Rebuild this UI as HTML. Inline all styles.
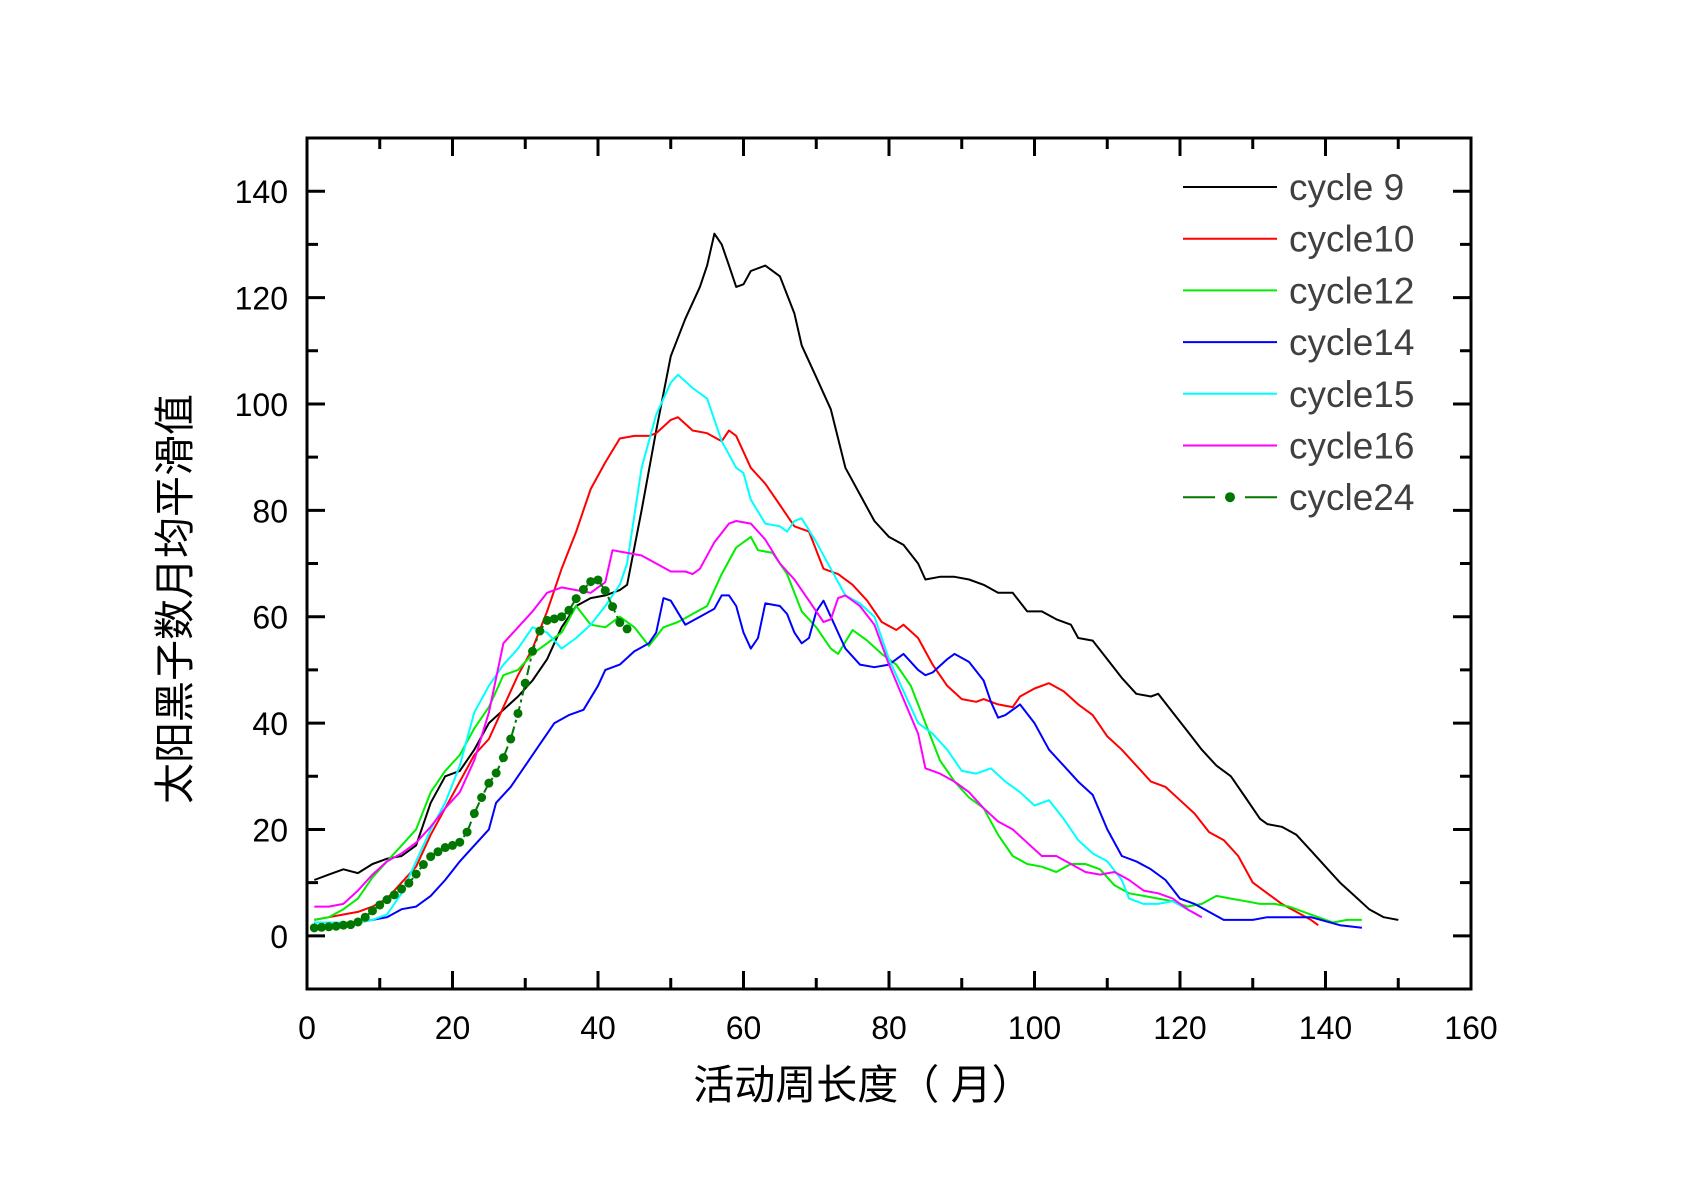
<!DOCTYPE html>
<html><head><meta charset="utf-8"><style>
html,body{margin:0;padding:0;background:#fff;}
svg{display:block;font-family:"Liberation Sans","Noto Sans CJK SC",sans-serif;}
</style></head><body>
<svg id="chart" width="1705" height="1183" viewBox="0 0 1705 1183" xmlns="http://www.w3.org/2000/svg">
<rect x="0" y="0" width="1705" height="1183" fill="#fff"/>
<g id="plot"></g>
<g id="axes"></g>
<g id="legend"></g>
<text x="178" y="599" transform="rotate(-90 178 599)" text-anchor="middle" dominant-baseline="middle" font-size="41" fill="#000">太阳黑子数月均平滑值</text>
<text x="863" y="1088" text-anchor="middle" dominant-baseline="middle" font-size="41" fill="#000">活动周长度（ 月）</text>
</svg>
<script>
const xTicks = [0,20,40,60,80,100,120,140,160];
const yTicks = [0,20,40,60,80,100,120,140];
const seriesNames = ["cycle 9","cycle10","cycle12","cycle14","cycle15","cycle16","cycle24"];
const c9x=[1,3,5,7,9,11,13,15,17,19,21,23,25,27,29,31,33,35,37,39,41,43,44,46,48,50,52,54,55,56,57,58,59,60,61,63,65,67,68,70,72,74,76,78,80,82,84,85,87,89,91,93,95,97,99,101,103,105,106,108,110,112,114,116,117,119,121,123,125,127,129,131,132,134,136,138,140,142,144,146,148,150];
const c9y=[10.5,11.5,12.5,11.8,13.5,14.5,15,17,25,30,31,35,40,42.5,45,48,52,58,62,63.5,64,65,66,80,95,109,116,122,126,132,130,126,122,122.5,125,126,124,117,111,105,99,88,83,78,75,73.5,70,67,67.5,67.5,67,66,64.5,64.5,61,61,59.5,58.5,56,55.5,52,48.5,45.5,45,45.5,42,38.5,35,32,30,26,22,21,20.5,19,16,13,10,7.5,5,3.5,3];
const c10x=[1,3,5,7,9,11,13,15,17,19,21,23,25,27,29,31,33,35,37,39,41,43,45,47,48,50,51,53,55,57,58,59,61,63,65,67,69,71,73,75,77,79,81,82,84,86,88,90,92,93,95,97,98,100,102,104,106,108,110,112,114,116,118,120,122,124,126,128,130,132,134,136,138,139];
const c10y=[3,3.5,4,4.5,5.5,7,10,13,19,24,29,34,37,43,49,54,61,69,76,84,89,93.5,94,94,94.5,97,97.5,95,94.5,93,95,94,88,85,81,77,76,69,68,66,63,59,57.5,58.5,56,51,47,44.5,44,44.5,43.5,43,45,46.5,47.5,46,43.5,41.5,37.5,35,32,29,28,25.5,23,19.5,18,15,10,8,6,4.5,3,2];
const c12x=[1,3,5,7,9,11,13,15,17,19,21,23,25,27,29,31,33,35,37,39,41,43,45,47,49,51,53,55,57,59,61,62,64,66,68,70,72,73,75,77,79,81,83,85,87,89,91,93,95,97,99,101,103,105,107,109,111,113,115,117,119,121,123,125,127,129,131,133,135,137,139,141,143,145];
const c12y=[3,3.5,5,7,11,14,17,20,27,31,34,39,43,49,50,53,55,57,62,58.5,58,60,58,54.5,58,59,60.5,62,68,73,75,72.5,72,68,61,58,54,53,57.5,55.5,53,51,47,40,33,29,26,24,19,15,13.5,13,12,13.5,13.5,12.5,9.5,8,7.5,7,6.5,5.5,6,7.5,7,6.5,6,6,5.5,4.5,3.5,2.5,3,3];
const c14x=[1,3,5,7,9,11,13,15,17,19,21,23,25,26,28,30,32,34,36,38,40,41,43,45,47,48,49,50,52,54,56,57,58,59,60,61,62,63,65,66,67,68,69,70,71,72,74,76,78,80,82,84,85,86,88,89,91,93,94,95,96,98,100,102,104,106,108,110,112,114,116,118,120,122,124,126,130,132,136,138,142,145];
const c14y=[2.5,2.5,2.5,2.5,3,3.5,5,5.5,7.5,10.5,14,17,20,25,28,32,36,40,41.5,42.5,47,50,51,53.5,55,57,63.5,63,58.5,60,61.5,64,64,62,57,54,56,62.5,62,60.5,57,55,56,61,63,60,54,51,50.5,51,53,50,49,49.5,52,53,51.5,48,44,41,41.5,43.5,40,35,32,29,26.5,20,15,14,12.5,10.5,7,6,4.5,3,3,3.5,3.5,3.5,2,1.5];
const c15x=[1,3,5,7,9,11,13,15,17,19,21,23,25,27,29,31,33,35,37,39,41,43,44,46,48,50,51,53,55,57,59,60,61,63,65,66,67,68,70,72,74,76,78,80,82,84,86,88,90,92,94,96,98,100,102,104,106,108,110,112,113,115,117,119,121,123];
const c15y=[2.5,2.5,2.5,2.5,3,4,8,14,20,25,32,42,47,51,54,58,57,54,56,58.5,62,66,70,88,98,104,105.5,103,101,93,88,87,82,77.5,77,76,78,78.5,74,69,64,62.5,60,52,46,40,38,35,31,30.5,31.5,29,27,24.5,25.5,22,18,15.5,14,10.5,7,6,6,6.5,5,3.5];
const c16x=[1,3,5,7,9,11,13,15,17,19,21,23,25,27,29,31,33,35,37,39,41,42,44,46,48,50,52,53,54,56,58,59,61,63,65,67,69,71,72,73,74,76,78,80,82,84,85,87,89,91,93,95,97,99,101,103,105,107,109,111,113,115,117,119,121,123];
const c16y=[5.5,5.5,6,8.5,11.5,14,15.5,17.5,20.5,24,27,33,42,55,58,61,64.5,65.5,65,64.5,66.5,72.5,72,71.5,70,68.5,68.5,68,69,74,77.5,78,77.5,74.5,70,67,63,59,59.5,63.5,64,62,58.5,51,44.5,38,31.5,30.5,29,27,24,21.5,20,17.5,15,15,13.5,12,11.5,12,10.5,8.5,8,7,5,3.5];
const c24x=[1,2,3,4,5,6,7,8,9,10,11,12,13,14,15,16,17,18,19,20,21,22,23,24,25,26,27,28,29,30,31,32,33,34,35,36,37,38,39,40,41,42,43,44];
const c24y=[1.5,1.6,1.7,1.8,2,2.1,2.6,3.5,4.7,5.8,6.8,7.7,8.8,9.9,11.6,13.4,14.9,15.8,16.6,17,17.6,19.5,23,26,28.7,30.6,33.5,37,41.8,47.5,53.5,57.3,59.3,59.6,60,61.2,63.4,65.1,66.6,66.9,64.9,61.9,58.9,57.7];

const L=307,R=1471,T=138,B=989,XMIN=0,XMAX=160,YMIN=-10,YMAX=150;
function sx(v){return L+(v-XMIN)/(XMAX-XMIN)*(R-L);}
function sy(v){return B-(v-YMIN)/(YMAX-YMIN)*(B-T);}
const NS="http://www.w3.org/2000/svg";
function mk(tag,attrs,parent){const e=document.createElementNS(NS,tag);for(const k in attrs)e.setAttribute(k,attrs[k]);parent.appendChild(e);return e;}
const plot=document.getElementById('plot'),axes=document.getElementById('axes'),legend=document.getElementById('legend');
const colors=["#000000","#ff0000","#00ee00","#0000ff","#00ffff","#ff00ff","#007700"];
const allX=[c9x,c10x,c12x,c14x,c15x,c16x,c24x],allY=[c9y,c10y,c12y,c14y,c15y,c16y,c24y];
for(let s=0;s<7;s++){
  const pts=allX[s].map((x,i)=>sx(x).toFixed(1)+","+sy(allY[s][i]).toFixed(1)).join(" ");
  const pl=mk('polyline',{points:pts,fill:"none",stroke:colors[s],"stroke-width":"2","stroke-linejoin":"round"},plot);
  if(s===6)pl.setAttribute('stroke-dasharray','10,4,3,4');
  
  
}
for(let i=0;i<c24x.length;i++){
  const c=mk('circle',{cx:sx(c24x[i]),cy:sy(c24y[i]),r:4.5,fill:"#007700"},plot);
  
  
}
const frame=mk('rect',{x:L,y:T,width:R-L,height:B-T,fill:"none",stroke:"#000","stroke-width":"3"},axes);


for(let v=0;v<=160;v+=10){
  const len=(v%20===0)?18:11;
  mk('line',{x1:sx(v),y1:B,x2:sx(v),y2:B-len,stroke:"#000","stroke-width":"3"},axes);
  mk('line',{x1:sx(v),y1:T,x2:sx(v),y2:T+len,stroke:"#000","stroke-width":"3"},axes);
}
for(let v=-10;v<=150;v+=10){
  const len=(v%20===0)?18:11;
  mk('line',{x1:L,y1:sy(v),x2:L+len,y2:sy(v),stroke:"#000","stroke-width":"3"},axes);
  mk('line',{x1:R,y1:sy(v),x2:R-len,y2:sy(v),stroke:"#000","stroke-width":"3"},axes);
}
xTicks.forEach(v=>{
  const t=mk('text',{x:sx(v),y:1039,"text-anchor":"middle","font-size":"32",fill:"#000"},axes);
  t.textContent=String(v);
  
  
});
yTicks.forEach(v=>{
  const t=mk('text',{x:288,y:sy(v)+12,"text-anchor":"end","font-size":"32",fill:"#000"},axes);
  t.textContent=String(v);
  
  
});
for(let s=0;s<7;s++){
  const y=187+s*51.7;
  const g=mk('g',{},legend);
  
  
  if(s===6){
    mk('line',{x1:1183,y1:y,x2:1215,y2:y,stroke:colors[s],"stroke-width":"2"},g);
    mk('line',{x1:1245,y1:y,x2:1277,y2:y,stroke:colors[s],"stroke-width":"2"},g);
    mk('circle',{cx:1230,cy:y,r:5,fill:colors[s]},g);
  } else {
    mk('line',{x1:1183,y1:y,x2:1277,y2:y,stroke:colors[s],"stroke-width":"2"},g);
  }
  const t=mk('text',{x:1289,y:y+13,"font-size":"37",fill:"#404040"},g);
  t.textContent=seriesNames[s];
}
</script>
</body></html>
